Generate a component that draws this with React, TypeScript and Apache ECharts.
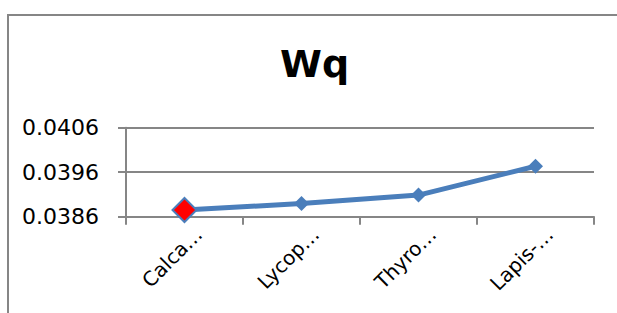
import React, { useEffect, useRef } from "react";
import * as echarts from "echarts";

const titleText = "Wq";
const categories = ["Calca…", "Lycop…", "Thyro…", "Lapis-…"];
const values = [0.03875, 0.038895, 0.039085, 0.039734];
const yMin = 0.0386;
const yMax = 0.0406;
const yStep = 0.001;

const GRAY = "#868686";
const BLUE = "#4A7EBB";
const FONT = "'DejaVu Sans', sans-serif";

export default function App() {
  const ref = useRef<HTMLDivElement>(null);
  useEffect(() => {
    if (!ref.current) return;
    const chart = echarts.init(ref.current, undefined, { renderer: "svg" });
    chart.setOption({
      animation: false,
      backgroundColor: "#ffffff",
      title: {
        text: titleText,
        left: 280,
        top: 45,
        padding: 0,
        textStyle: { fontFamily: FONT, fontSize: 38, fontWeight: "bold", color: "#000" },
      },
      graphic: [
        {
          type: "rect",
          shape: { x: 8, y: 15, width: 700, height: 400 },
          style: { fill: "none", stroke: GRAY, lineWidth: 2 },
          silent: true,
        },
      ],
      grid: { left: 126, right: 23, top: 127.7, bottom: 96.3 },
      xAxis: {
        type: "category",
        data: categories,
        boundaryGap: true,
        axisLine: { show: true, lineStyle: { color: GRAY, width: 2 } },
        axisTick: { show: true, length: 8, lineStyle: { color: GRAY, width: 2 } },
        axisLabel: {
          rotate: 45,
          interval: 0,
          margin: 0,
          verticalAlign: "top",
          padding: [10, 0, 0, 0],
          fontFamily: FONT,
          fontSize: 20,
          color: "#000",
        },
      },
      yAxis: {
        type: "value",
        min: yMin,
        max: yMax,
        interval: yStep,
        axisLine: { show: true, lineStyle: { color: GRAY, width: 2 } },
        axisTick: { show: true, length: 8, lineStyle: { color: GRAY, width: 2 } },
        splitLine: { show: true, lineStyle: { color: GRAY, width: 2 } },
        axisLabel: {
          margin: 27,
          fontFamily: FONT,
          fontSize: 22,
          color: "#000",
          formatter: (v: number) => v.toFixed(4),
        },
      },
      series: [
        {
          type: "line",
          data: values.map((v, i) =>
            i === 0
              ? {
                  value: v,
                  symbolSize: 24,
                  itemStyle: { color: "#FF0000", borderColor: BLUE, borderWidth: 2 },
                }
              : v
          ),
          symbol: "diamond",
          symbolSize: 15,
          lineStyle: { color: BLUE, width: 5 },
          itemStyle: { color: BLUE },
          z: 3,
        },
      ],
    });
    return () => chart.dispose();
  }, []);
  return (
    <div
      ref={ref}
      style={{ position: "fixed", left: 0, top: 0, width: 617, height: 313 }}
    />
  );
}
